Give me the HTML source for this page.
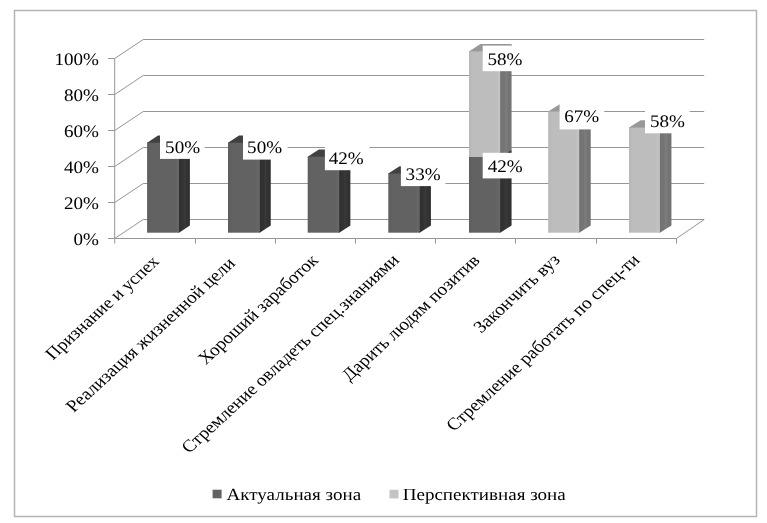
<!DOCTYPE html>
<html><head><meta charset="utf-8"><style>
html,body{margin:0;padding:0;background:#fff;}
svg{display:block;filter:grayscale(1);}
text{font-family:"Liberation Serif","Times New Roman",serif;fill:#000;text-rendering:geometricPrecision;}
</style></head><body>
<svg width="767" height="523" viewBox="0 0 767 523">
<defs>
<linearGradient id="df" x1="0" y1="0" x2="1" y2="0"><stop offset="0" stop-color="#5d5d5d"/><stop offset="0.12" stop-color="#626262"/><stop offset="0.85" stop-color="#626262"/><stop offset="1" stop-color="#686868"/></linearGradient>
<linearGradient id="ds" x1="0" y1="0" x2="1" y2="0"><stop offset="0" stop-color="#2f2f2f"/><stop offset="0.4" stop-color="#333333"/><stop offset="0.55" stop-color="#393939"/><stop offset="0.7" stop-color="#333333"/><stop offset="1" stop-color="#2f2f2f"/></linearGradient>
<linearGradient id="lf" x1="0" y1="0" x2="1" y2="0"><stop offset="0" stop-color="#b6b6b6"/><stop offset="0.12" stop-color="#bdbdbd"/><stop offset="0.85" stop-color="#bdbdbd"/><stop offset="1" stop-color="#c4c4c4"/></linearGradient>
<linearGradient id="ls" x1="0" y1="0" x2="1" y2="0"><stop offset="0" stop-color="#727272"/><stop offset="0.4" stop-color="#757575"/><stop offset="0.55" stop-color="#7d7d7d"/><stop offset="0.7" stop-color="#757575"/><stop offset="1" stop-color="#727272"/></linearGradient>
</defs>
<rect x="14.5" y="10.5" width="742" height="506" fill="#fff" stroke="#b4b4b4" stroke-width="1.5"/>
<g fill="none" stroke="#969696" stroke-width="1.0"><polyline points="114.7,238.5 143.2,219.5 704.2,219.5" /><line x1="108" y1="238.5" x2="114.7" y2="238.5" /><polyline points="114.7,202.5 143.2,183.5 704.2,183.5" /><line x1="108" y1="202.5" x2="114.7" y2="202.5" /><polyline points="114.7,166.5 143.2,147.5 704.2,147.5" /><line x1="108" y1="166.5" x2="114.7" y2="166.5" /><polyline points="114.7,130.5 143.2,111.5 704.2,111.5" /><line x1="108" y1="130.5" x2="114.7" y2="130.5" /><polyline points="114.7,94.5 143.2,75.5 704.2,75.5" /><line x1="108" y1="94.5" x2="114.7" y2="94.5" /><polyline points="114.7,58.5 143.2,39.5 704.2,39.5" /><line x1="108" y1="58.5" x2="114.7" y2="58.5" /><polyline points="114.7,238.5 676.5,238.5 704.2,219.5" /><line x1="114.7" y1="58.5" x2="114.7" y2="243.5" /><line x1="195.5" y1="238.5" x2="195.5" y2="243.5" /><line x1="275.5" y1="238.5" x2="275.5" y2="243.5" /><line x1="355.5" y1="238.5" x2="355.5" y2="243.5" /><line x1="435.5" y1="238.5" x2="435.5" y2="243.5" /><line x1="515.5" y1="238.5" x2="515.5" y2="243.5" /><line x1="596.5" y1="238.5" x2="596.5" y2="243.5" /><line x1="676.5" y1="238.5" x2="676.5" y2="243.5" /></g>
<polygon fill="url(#ds)" points="178.4,232.7 179,232.7 189.9,225.4 189.9,135.5 179,142.8 178.4,142.8"/><polygon fill="#414141" points="147.1,143.4 147.1,142.8 158,135.5 189.9,135.5 179,143.4"/><rect fill="url(#df)" x="147.1" y="142.8" width="31.9" height="89.9"/><polygon fill="url(#ds)" points="259.12,232.7 259.72,232.7 270.74,225.4 270.74,135.5 259.72,142.8 259.12,142.8"/><polygon fill="#414141" points="228,143.4 228,142.8 239.02,135.5 270.74,135.5 259.72,143.4"/><rect fill="url(#df)" x="228" y="142.8" width="31.72" height="89.9"/><polygon fill="url(#ds)" points="338.64,232.7 339.24,232.7 350.38,225.4 350.38,149.4 339.24,156.7 338.64,156.7"/><polygon fill="#414141" points="307.7,157.3 307.7,156.7 318.84,149.4 350.38,149.4 339.24,157.3"/><rect fill="url(#df)" x="307.7" y="156.7" width="31.54" height="76"/><polygon fill="url(#ds)" points="419.06,232.7 419.66,232.7 430.92,225.4 430.92,166.3 419.66,173.6 419.06,173.6"/><polygon fill="#414141" points="388.3,174.2 388.3,173.6 399.56,166.3 430.92,166.3 419.66,174.2"/><rect fill="url(#df)" x="388.3" y="173.6" width="31.36" height="59.1"/><polygon fill="url(#ds)" points="499.58,232.7 500.18,232.7 511.56,225.4 511.56,149.7 500.18,157 499.58,157"/><polygon fill="#414141" points="469,157.6 469,157 480.38,149.7 511.56,149.7 500.18,157.6"/><rect fill="url(#df)" x="469" y="157" width="31.18" height="75.7"/><polygon fill="url(#ls)" points="499.58,157 500.18,157 511.56,149.7 511.56,44.1 500.18,51.4 499.58,51.4"/><polygon fill="#989898" points="469,52 469,51.4 480.38,44.1 511.56,44.1 500.18,52"/><rect fill="url(#lf)" x="469" y="51.4" width="31.18" height="105.6"/><polygon fill="url(#ls)" points="578.6,232.7 579.2,232.7 590.7,225.4 590.7,104.2 579.2,111.5 578.6,111.5"/><polygon fill="#989898" points="548.2,112.1 548.2,111.5 559.7,104.2 590.7,104.2 579.2,112.1"/><rect fill="url(#lf)" x="548.2" y="111.5" width="31" height="121.2"/><polygon fill="url(#ls)" points="659.22,232.7 659.82,232.7 671.44,225.4 671.44,120.3 659.82,127.6 659.22,127.6"/><polygon fill="#989898" points="629,128.2 629,127.6 640.62,120.3 671.44,120.3 659.82,128.2"/><rect fill="url(#lf)" x="629" y="127.6" width="30.82" height="105.1"/>
<g font-size="17.6"><rect fill="#fff" x="160" y="133.3" width="44.6" height="25.6"/><text transform="translate(165.1,153.4) scale(1.085,1)">50%</text><rect fill="#fff" x="243" y="134" width="44.6" height="25.6"/><text transform="translate(247.1,153.2) scale(1.085,1)">50%</text><rect fill="#fff" x="324.9" y="144.6" width="44.6" height="25.6"/><text transform="translate(328.7,164.2) scale(1.085,1)">42%</text><rect fill="#fff" x="400.9" y="160.5" width="44.6" height="25.6"/><text transform="translate(405.6,180.2) scale(1.085,1)">33%</text><rect fill="#fff" x="482.7" y="152.8" width="44.6" height="25.6"/><text transform="translate(487.7,172) scale(1.085,1)">42%</text><rect fill="#fff" x="482.7" y="45.6" width="44.6" height="25.6"/><text transform="translate(487.5,64.5) scale(1.085,1)">58%</text><rect fill="#fff" x="559.6" y="103.8" width="44.6" height="25.6"/><text transform="translate(564.2,122.3) scale(1.085,1)">67%</text><rect fill="#fff" x="645" y="107.7" width="44.6" height="25.6"/><text transform="translate(650,127) scale(1.085,1)">58%</text></g>
<g font-size="17.6"><text transform="translate(99,244.5) scale(1.085,1)" text-anchor="end">0%</text><text transform="translate(99,208.5) scale(1.085,1)" text-anchor="end">20%</text><text transform="translate(99,172.5) scale(1.085,1)" text-anchor="end">40%</text><text transform="translate(99,136.5) scale(1.085,1)" text-anchor="end">60%</text><text transform="translate(99,100.5) scale(1.085,1)" text-anchor="end">80%</text><text transform="translate(99,64.5) scale(1.085,1)" text-anchor="end">100%</text></g>
<g font-size="17.15"><text transform="translate(160.1,262.5) scale(1.13,1) rotate(-46)" text-anchor="end" font-size="16.85">Признание и успех</text><text transform="translate(236.2,264.2) scale(1.13,1) rotate(-46)" text-anchor="end">Реализация жизненной цели</text><text transform="translate(319.3,261.3) scale(1.13,1) rotate(-46)" text-anchor="end">Хороший заработок</text><text transform="translate(400.1,260.8) scale(1.13,1) rotate(-46)" text-anchor="end">Стремление овладеть спец.знаниями</text><text transform="translate(480.9,261.3) scale(1.13,1) rotate(-46)" text-anchor="end">Дарить людям позитив</text><text transform="translate(561.1,260.7) scale(1.13,1) rotate(-46)" text-anchor="end">Закончить вуз</text><text transform="translate(640.7,260.8) scale(1.13,1) rotate(-46)" text-anchor="end">Стремление работать по спец-ти</text></g>
<g font-size="17">
<rect x="212.6" y="489.7" width="9" height="8.6" fill="#626262"/>
<text transform="translate(226.5,500.3) scale(1.12,1)">Актуальная зона</text>
<rect x="389.5" y="489.8" width="9" height="8.6" fill="#c4c4c4"/>
<text transform="translate(402.7,500.3) scale(1.12,1)">Перспективная зона</text>
</g>
</svg>
</body></html>
